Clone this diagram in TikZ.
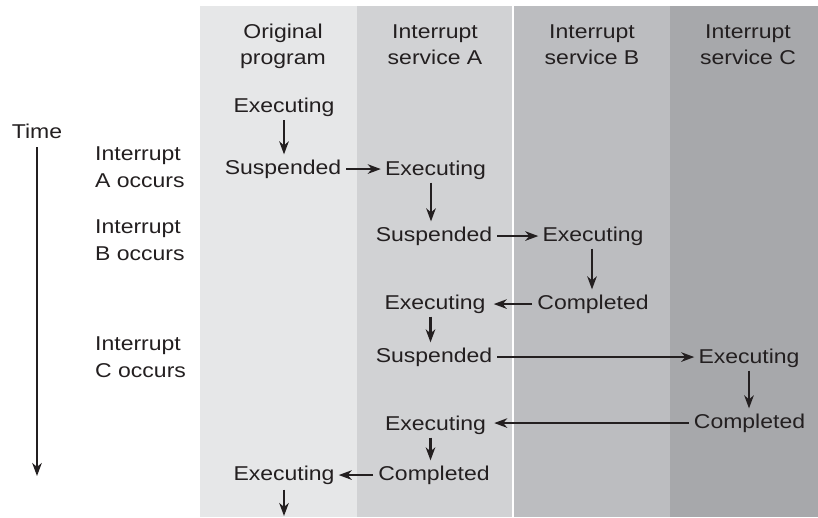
\documentclass[tikz,border=0pt]{standalone}
\usepackage{fontspec}
\setmainfont{Liberation Sans}[FakeStretch=1.15]
\usetikzlibrary{arrows.meta}
\definecolor{txt}{HTML}{231F20}
\definecolor{colA}{HTML}{E6E7E8}
\definecolor{colB}{HTML}{D1D2D4}
\definecolor{colC}{HTML}{BCBDC0}
\definecolor{colD}{HTML}{A7A8AB}
\tikzset{
  st/.style={font=\fontsize{20}{27}\selectfont, text=txt, inner sep=0pt,
             text height=14.4pt, text depth=4.5pt, anchor=base},
  arr/.style={line width=2.3pt, draw=txt, -{Stealth[length=13pt,width=9.5pt,inset=4pt]}},
  hz/.style={arr, shorten <=5pt, shorten >=4pt},
  vt/.style={arr, shorten <=3pt, shorten >=5pt},
}
\begin{document}
\begin{tikzpicture}[x=1pt,y=-1pt]
\useasboundingbox (0,0) rectangle (818,517);
% column backgrounds
\fill[colA] (200,6) rectangle (357,517);
\fill[colB] (357,6) rectangle (513,517);
\fill[colC] (513,6) rectangle (670,517);
\fill[colD] (670,6) rectangle (818,517);
\fill[white] (512.3,6) rectangle (513.8,517);
% headers
\node[st] (h1a) at (283,38) {Original};
\node[st] (h1b) at (283,64.5) {program};
\node[st] (h2a) at (435,38) {Interrupt};
\node[st] (h2b) at (435,64.5) {service A};
\node[st] (h3a) at (592,38) {Interrupt};
\node[st] (h3b) at (592,64.5) {service B};
\node[st] (h4a) at (748,38) {Interrupt};
\node[st] (h4b) at (748,64.5) {service C};
% left labels
\node[st] (time) at (37,138) {Time};
\coordinate (tstart) at (37,147);
\coordinate (tend) at (37,476);
\draw[arr] (tstart) -- (tend);
\node[st, anchor=base west] (ia1) at (95,160) {Interrupt};
\node[st, anchor=base west] (ia2) at (95,187) {A occurs};
\node[st, anchor=base west] (ib1) at (95,233) {Interrupt};
\node[st, anchor=base west] (ib2) at (95,260) {B occurs};
\node[st, anchor=base west] (ic1) at (95,350) {Interrupt};
\node[st, anchor=base west] (ic2) at (95,377) {C occurs};
% states
\node[st] (E1) at (284,112.7) {Executing};
\node[st] (S1) at (283,174) {Suspended};
\node[st] (A1) at (435.5,175) {Executing};
\node[st] (SA) at (434,241) {Suspended};
\node[st] (B1) at (593,241) {Executing};
\node[st] (B2) at (593,309) {Completed};
\node[st] (A2) at (435,309) {Executing};
\node[st] (SA2) at (434,362) {Suspended};
\node[st] (C1) at (749,363) {Executing};
\node[st] (C2) at (749.5,428) {Completed};
\node[st] (A3) at (435.5,430) {Executing};
\node[st] (A4) at (434,480) {Completed};
\node[st] (O2) at (284,480) {Executing};
\coordinate (oend) at (284,516);
% vertical arrows
\draw[vt] (E1.south) -- (S1.north -| E1.south);
\draw[vt] ([xshift=-4.5pt]A1.south) -- ([xshift=-4.5pt]A1.south |- SA.north);
\draw[vt] ([xshift=-1pt]B1.south) -- ([xshift=-1pt]B2.north);
\draw[vt] ([xshift=-4.5pt]A2.south) -- ([xshift=-4.5pt]A2.south |- SA2.north);
\draw[vt] (C1.south) -- (C2.north -| C1.south);
\draw[vt] ([xshift=-5pt]A3.south) -- ([xshift=-5pt]A3.south |- A4.north);
\draw[arr, shorten <=5pt] (O2.south) -- (oend);
% horizontal arrows
\draw[hz] (S1.east) -- (S1.east -| A1.west);
\draw[hz] (SA.east) -- (SA.east -| B1.west);
\draw[hz, shorten >=8pt] (B2.west) -- (B2.west -| A2.east);
\draw[hz] (SA2.east) -- (SA2.east -| C1.west);
\draw[hz, shorten >=8pt] (C2.west) -- (C2.west -| A3.east);
\draw[hz] (A4.west) -- (A4.west -| O2.east);
\end{tikzpicture}
\end{document}
